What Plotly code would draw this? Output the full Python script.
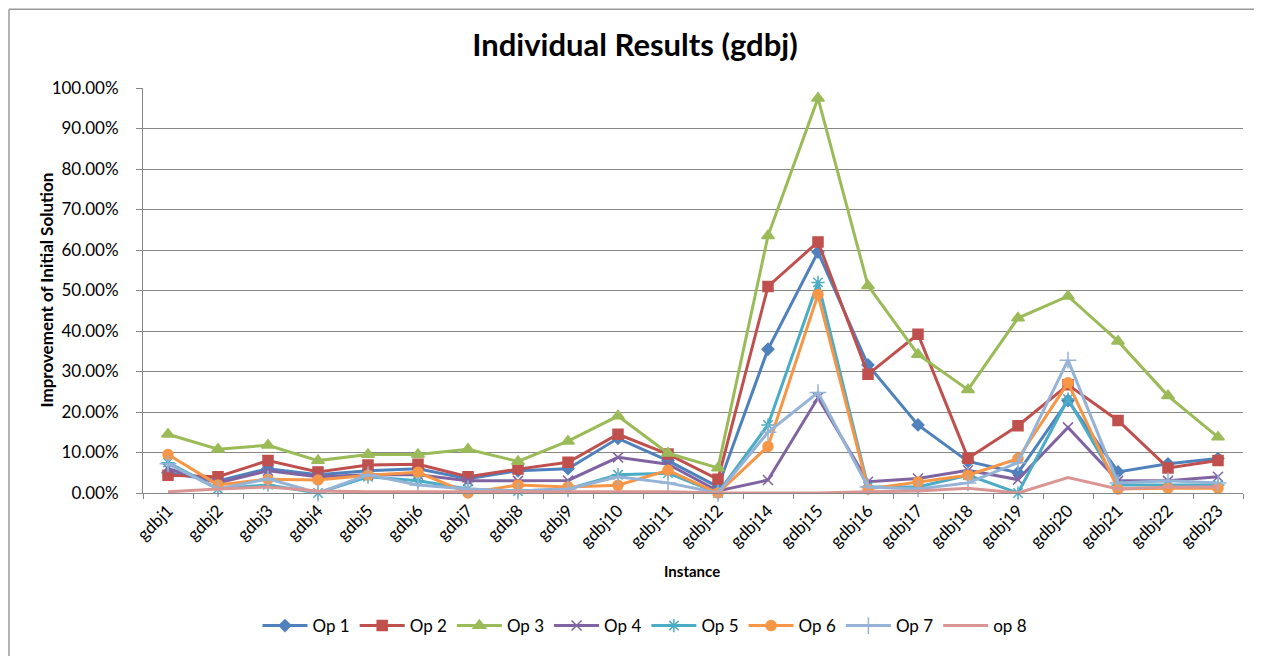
import plotly.graph_objects as go

instances = ["gdbj1","gdbj2","gdbj3","gdbj4","gdbj5","gdbj6","gdbj7","gdbj8","gdbj9","gdbj10",
             "gdbj11","gdbj12","gdbj14","gdbj15","gdbj16","gdbj17","gdbj18","gdbj19","gdbj20",
             "gdbj21","gdbj22","gdbj23"]

op1 = [0.050,0.030,0.060,0.045,0.055,0.060,0.035,0.055,0.060,0.135,0.080,0.015,0.355,0.595,0.316,0.168,0.078,0.050,0.228,0.052,0.072,0.085]
op2 = [0.044,0.040,0.080,0.052,0.069,0.071,0.040,0.059,0.076,0.145,0.096,0.034,0.510,0.620,0.293,0.392,0.086,0.166,0.267,0.179,0.062,0.080]
op3 = [0.145,0.108,0.118,0.080,0.095,0.095,0.108,0.078,0.128,0.190,0.098,0.062,0.635,0.975,0.512,0.342,0.255,0.432,0.486,0.375,0.240,0.138]
op4 = [0.060,0.025,0.055,0.040,0.045,0.045,0.030,0.030,0.031,0.088,0.071,0.005,0.032,0.235,0.028,0.036,0.056,0.033,0.162,0.030,0.030,0.040]
op5 = [0.075,0.010,0.020,0.000,0.040,0.030,0.010,0.005,0.010,0.045,0.049,0.000,0.168,0.520,0.015,0.015,0.044,0.000,0.232,0.020,0.020,0.020]
op6 = [0.095,0.020,0.034,0.032,0.044,0.051,0.000,0.020,0.015,0.019,0.056,0.000,0.115,0.490,0.010,0.027,0.044,0.085,0.272,0.010,0.012,0.012]
op7 = [0.072,0.010,0.035,0.000,0.045,0.020,0.010,0.005,0.010,0.040,0.025,0.000,0.150,0.248,0.015,0.010,0.025,0.075,0.328,0.025,0.030,0.025]
op8 = [0.003,0.010,0.015,0.005,0.003,0.003,0.003,0.003,0.003,0.003,0.003,0.000,0.000,0.000,0.003,0.005,0.012,0.000,0.038,0.010,0.015,0.015]

series = [
    ("Op 1", op1, "#4F81BD", "diamond", 9),
    ("Op 2", op2, "#C0504D", "square", 10),
    ("Op 3", op3, "#9BBB59", "triangle-up", 11),
    ("Op 4", op4, "#8064A2", "x-thin-open", 10),
    ("Op 5", op5, "#4BACC6", "asterisk-open", 11),
    ("Op 6", op6, "#F79646", "circle", 10),
    ("Op 7", op7, "#95B3D7", "cross-thin-open", 12),
    ("op 8", op8, "#D99694", None, 0),
]

fig = go.Figure()
for name, vals, col, sym, sz in series:
    if sym is None:
        fig.add_trace(go.Scatter(x=instances, y=vals, name=name, mode="lines",
                                 line=dict(color=col, width=3), cliponaxis=False))
    else:
        fig.add_trace(go.Scatter(x=instances, y=vals, name=name, mode="lines+markers",
                                 line=dict(color=col, width=3),
                                 marker=dict(symbol=sym, size=sz, color=col,
                                             line=dict(color=col, width=1.5)),
                                 cliponaxis=False))

font_family = "Lato, 'Open Sans', 'DejaVu Sans', sans-serif"

# page body has an 8px margin: figure origin is at (8, 8) of the window
W, H = 1254, 648
L, T, R, B = 135, 80, 19, 157
PW, PH = W - L - R, H - T - B
BOT = H - B  # plot bottom in figure pixels

fig.update_layout(
    width=W, height=H,
    margin=dict(l=L, r=R, t=T, b=B),
    paper_bgcolor="white", plot_bgcolor="white",
    title=dict(text="<b>Individual Results (gdbj)</b>", x=(635 - 8) / W, xanchor="center",
               y=1 - (45 - 8) / H, yanchor="middle",
               font=dict(family=font_family, size=31, color="black")),
    font=dict(family=font_family, size=14, color="black"),
    xaxis=dict(
        type="category", automargin=False,
        tickangle=-45, tickfont=dict(size=17),
        showline=True, linecolor="#868686", linewidth=1,
        ticks="outside", tickson="boundaries", ticklen=5, tickcolor="#868686",
        showgrid=False, range=[-0.5, len(instances) - 0.5],
    ),
    yaxis=dict(
        automargin=False,
        range=[0, 1.0], dtick=0.1, tickformat=".2%", tickfont=dict(size=17),
        showline=True, linecolor="#868686", linewidth=1,
        ticks="outside", ticklen=6, tickcolor="#868686", ticklabelstandoff=14,
        showgrid=True, gridcolor="#868686", gridwidth=1,
        zeroline=False,
    ),
    legend=dict(orientation="h", x=(645 - 8 - L) / PW, xanchor="center",
                y=-(634 - 8 - BOT) / PH, yanchor="middle",
                font=dict(size=17), itemwidth=45, traceorder="normal"),
    showlegend=True,
)

# axis titles
fig.add_annotation(text="<b>Improvement of Initial Solution</b>", xref="paper", yref="paper",
                   x=(46 - 8 - L) / PW, y=0.5, textangle=-90, showarrow=False,
                   xanchor="center", yanchor="middle", font=dict(size=17, family=font_family))
fig.add_annotation(text="<b>Instance</b>", xref="paper", yref="paper",
                   x=(692 - 8 - L) / PW, y=-(578 - 8 - BOT) / PH, showarrow=False,
                   xanchor="center", yanchor="middle", font=dict(size=15, family=font_family))

# outer chart border (left and top)
fig.add_shape(type="line", xref="paper", yref="paper",
              x0=(9 - 8 - L) / PW, x1=(1262 - 8 - L) / PW, y0=BOT / PH, y1=BOT / PH,
              line=dict(color="#9a9a9a", width=1.5))
fig.add_shape(type="line", xref="paper", yref="paper",
              x0=(9 - 8 - L) / PW, x1=(9 - 8 - L) / PW, y0=BOT / PH, y1=-170 / PH,
              line=dict(color="#9a9a9a", width=1.5))

fig.write_html("out.html")
